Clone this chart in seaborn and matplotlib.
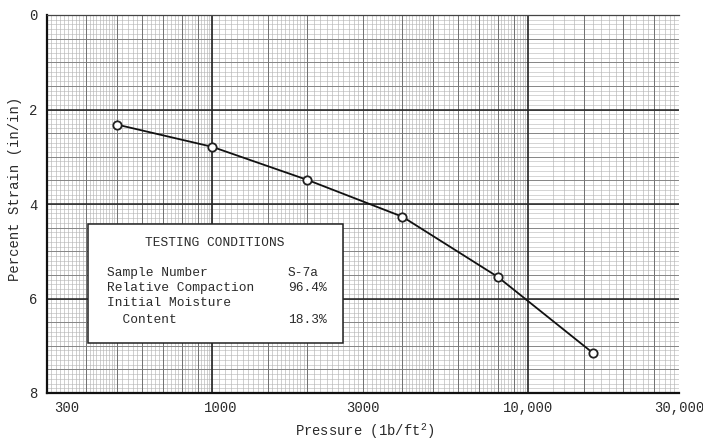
import numpy as np
import pandas as pd
import matplotlib
matplotlib.use("Agg")
import matplotlib.pyplot as plt
import matplotlib.ticker as mticker
import matplotlib.transforms as mtransforms
from matplotlib.patches import Rectangle
import seaborn as sns

# ---- data ----
pressure = [500, 1000, 2000, 4000, 8000, 16000]
strain = [2.32, 2.79, 3.49, 4.27, 5.54, 7.15]

x_ticks = [300, 1000, 3000, 10000, 30000]
x_tick_labels = ["300", "1000", "3000", "10,000", "30,000"]
y_ticks = [0, 2, 4, 6, 8]
y_tick_labels = ["0", "2", "4", "6", "8"]

box_title = "TESTING CONDITIONS"
box_rows = [("Sample Number", "S-7a"),
            ("Relative Compaction", "96.4%"),
            ("Initial Moisture", ""),
            ("  Content", "18.3%")]

sns.set_style("white")
plt.rcParams['font.family'] = ['Liberation Mono', 'DejaVu Sans Mono']
plt.rcParams['mathtext.fontset'] = 'custom'
plt.rcParams['mathtext.rm'] = 'Liberation Mono'
plt.rcParams['mathtext.it'] = 'Liberation Mono'

W, H = 703, 445
fig = plt.figure(figsize=(W / 100, H / 100), dpi=100)
L, R, T, B = 47, 679, 15, 393
ax = fig.add_axes([L / W, 1 - B / H, (R - L) / W, (B - T) / H])

df = pd.DataFrame({"Pressure": pressure, "Strain": strain})

ax.set_xscale("log")
ax.set_xlim(300, 30000)
ax.set_ylim(8, 0)

# ---- graph-paper grid ----
fine_x = []
fine_x += list(np.arange(300, 500, 10)) + list(np.arange(500, 1000, 20))
fine_x += list(np.arange(1000, 2000, 50)) + list(np.arange(2000, 5000, 100)) + list(np.arange(5000, 10000, 200))
fine_x += list(np.arange(12000, 30001, 1000))
med_x = [400, 500, 600, 700, 800, 900, 1500, 2000, 3000, 4000, 5000, 6000, 7000, 8000, 9000, 15000, 20000, 25000]
dark_x = [1000, 10000]

fine_y = np.arange(0, 8.01, 0.1)
med_y = np.arange(0, 8.01, 0.5)
dark_y = [2, 4, 6]

fine_c = "#b4b4b4"
for v in fine_x:
    ax.axvline(v, color=fine_c, lw=0.45, zorder=0)
for v in fine_y:
    ax.axhline(v, color=fine_c, lw=0.4, zorder=0)
for v in med_x:
    ax.axvline(v, color="#6a6a6a", lw=0.65, zorder=0.5)
for v in med_y:
    ax.axhline(v, color="#7a7a7a", lw=0.6, zorder=0.5)
for v in dark_x:
    ax.axvline(v, color="#222222", lw=1.2, zorder=0.6)
for v in dark_y:
    ax.axhline(v, color="#222222", lw=1.1, zorder=0.6)

# ---- data curve ----
sns.lineplot(data=df, x="Pressure", y="Strain", ax=ax, color="#111111", lw=1.3,
             marker="o", markersize=6, markerfacecolor="white",
             markeredgecolor="#222222", markeredgewidth=1.3, sort=False, zorder=5)

ax.set_xticks(x_ticks)
ax.set_xticklabels(x_tick_labels)
ax.xaxis.set_minor_locator(mticker.NullLocator())
ax.set_yticks(y_ticks)
ax.set_yticklabels(y_tick_labels)
ax.tick_params(axis="both", length=0, labelsize=10, colors="#2a2a2a")
ax.tick_params(axis="x", pad=6)
ax.tick_params(axis="y", pad=7)

# shift first x labels like the typed originals
xl = ax.get_xticklabels()
xl[0].set_transform(xl[0].get_transform() + mtransforms.ScaledTranslation(20 / 100, 0, fig.dpi_scale_trans))
xl[1].set_transform(xl[1].get_transform() + mtransforms.ScaledTranslation(8 / 100, 0, fig.dpi_scale_trans))

ax.set_xlabel("Pressure (1b/ft$^2$)", fontsize=10, color="#2a2a2a")
ax.set_ylabel("Percent Strain (in/in)", fontsize=10, color="#2a2a2a")
ax.xaxis.set_label_coords((365 - L) / (R - L), (B - 431) / (B - T))
ax.xaxis.label.set_va("center")
ax.yaxis.set_label_coords((15 - L) / (R - L), (B - 189) / (B - T))
ax.yaxis.label.set_va("center")

for s in ["left", "bottom"]:
    ax.spines[s].set_color("#111111")
    ax.spines[s].set_linewidth(1.6)
ax.spines["top"].set_color("#444444")
ax.spines["top"].set_linewidth(0.9)
ax.spines["right"].set_visible(False)

# ---- conditions box ----
bx0, bx1, by0, by1 = 88, 343, 224, 343
fig.patches.append(Rectangle((bx0 / W, 1 - by1 / H), (bx1 - bx0) / W, (by1 - by0) / H,
                             transform=fig.transFigure, facecolor="white",
                             edgecolor="#222222", lw=1.1, zorder=10))
fig.text(215 / W, 1 - 243 / H, box_title, ha="center", va="center", fontsize=9.3,
         color="#2a2a2a", zorder=11)
row_y = [273, 288, 303, 320]
for (lab, val), yy in zip(box_rows, row_y):
    fig.text(107 / W, 1 - yy / H, lab, ha="left", va="center", fontsize=9.3,
             color="#2a2a2a", zorder=11)
    if val:
        fig.text(288 / W, 1 - yy / H, val, ha="left", va="center", fontsize=9.3,
                 color="#2a2a2a", zorder=11)

fig.savefig("out.png", dpi=100)
